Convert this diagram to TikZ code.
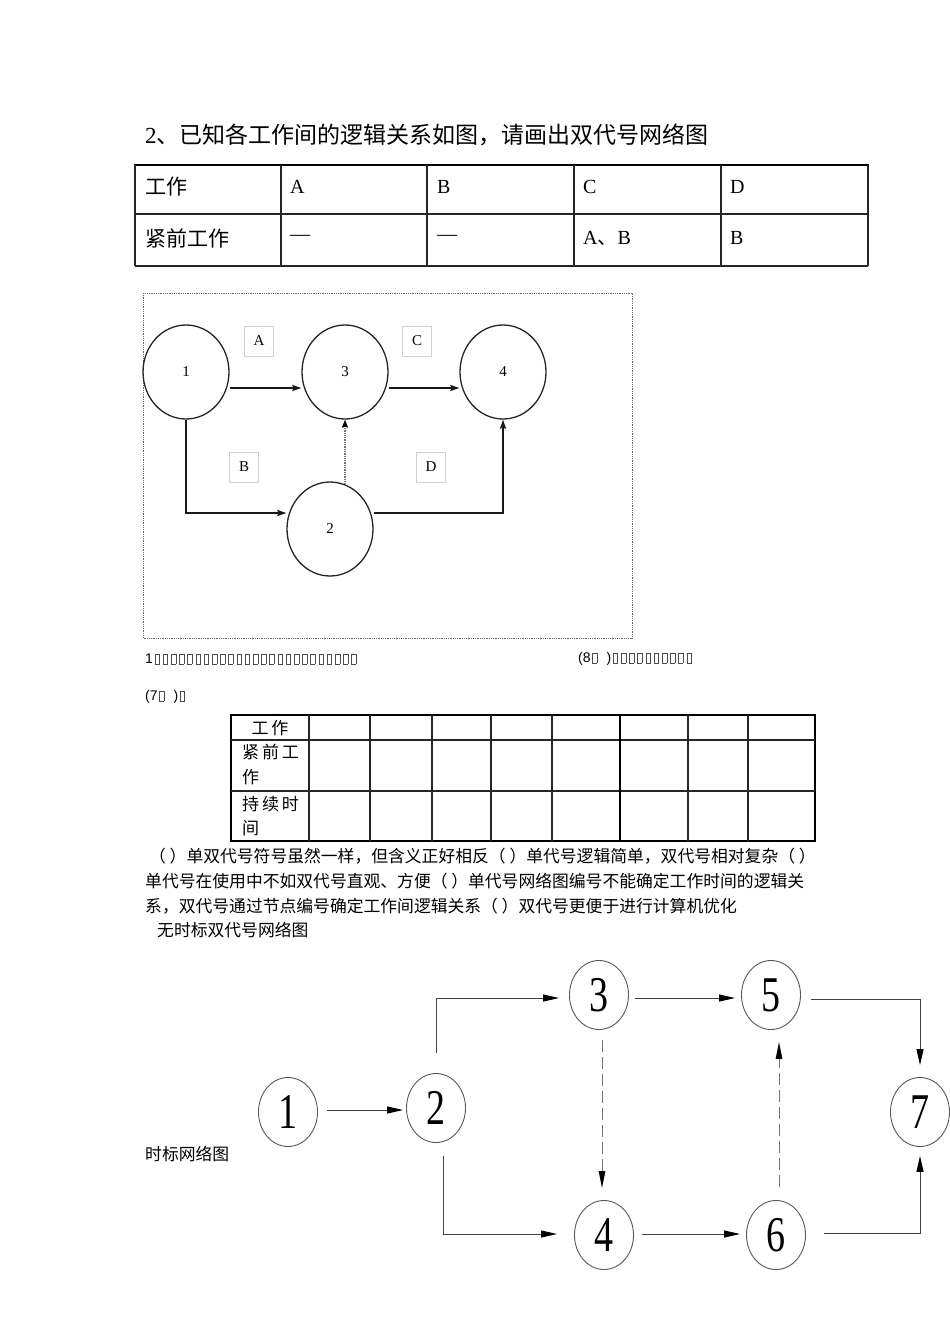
\documentclass[tikz,border=0pt]{standalone}
\usepackage{fontspec}
\usepackage{graphicx}
\setmainfont{Liberation Serif}
\newfontfamily\cjk{Noto Sans CJK SC}
\newfontfamily\lsans{Liberation Sans}
\usetikzlibrary{arrows.meta,shapes.geometric}
\newcommand\fs[1]{\fontsize{#1}{#1}\selectfont}
\newcommand\tofu{{\color{black!70}\setlength\fboxsep{0pt}\setlength\fboxrule{0.4pt}\kern1.6pt\fbox{\rule{0pt}{9pt}\hspace{4.2pt}}\kern1.6pt}}
\newcommand\tofus[1]{\foreach \i in {1,...,#1}{\tofu}}
\newcommand\dig[1]{\scalebox{0.76}[1]{\fs{50}#1}}
\tikzset{
  txt/.style={inner sep=0pt, anchor=west},
  cjkt/.style={txt, font=\cjk\fs{21}},
  serift/.style={txt, font=\fs{20}},
  para/.style={txt, font=\cjk\fs{16.8}},
  tofut/.style={txt, font=\lsans\fs{14}},
  circA/.style={draw=black!85, line width=1.3pt, ellipse, minimum width=86pt, minimum height=94pt, inner sep=0pt, font=\fs{15}},
  labbox/.style={draw=black!18, line width=0.8pt, minimum width=29pt, minimum height=30pt, inner sep=0pt, font=\fs{15}},
  arrA/.style={line width=1.5pt, black!90, -{Stealth[length=9pt,width=6pt,inset=1pt]}},
  dotA/.style={line width=1.3pt, black!55, densely dotted, -{Stealth[length=8pt,width=6pt,inset=1pt,black]}},
  circB/.style={draw=black!65, line width=0.9pt, ellipse, minimum width=59pt, minimum height=69pt, inner sep=0pt},
  arrB/.style={line width=1pt, black!75, -{Triangle[length=16pt,width=7pt,black]}},
  dashB/.style={line width=1pt, black!55, dash pattern=on 12pt off 5pt, -{Triangle[length=17pt,width=6.5pt,black]}},
  tline/.style={line width=1.2pt, black!85},
}
\begin{document}
\begin{tikzpicture}[x=1pt,y=-1pt]
\useasboundingbox (0,0) rectangle (950,1344);
\fill[white] (0,0) rectangle (950,1344);

% title
\node[txt, font=\fs{23}] (title) at (145,135) {2{\cjk 、已知各工作间的逻辑关系如图，请画出双代号网络图}};

% table 1
\draw[line width=2.6pt, black] (134,165) -- (869,165);
\draw[tline] (135,214) -- (868,214);
\draw[tline] (135,266) -- (868,266);
\foreach \x in {135,281,427,574,721,868} \draw[tline] (\x,165) -- (\x,266);
\node[cjkt] (h0) at (145,187) {工作};
\node[serift] (h1) at (290,187) {A};
\node[serift] (h2) at (437,187) {B};
\node[serift] (h3) at (583,187) {C};
\node[serift] (h4) at (730,187) {D};
\node[cjkt] (r0) at (145,238) {紧前工作};
\node[serift] (r1) at (290,238) {—};
\node[serift] (r2) at (437,238) {—};
\node[serift] (r3) at (583,238) {A{\cjk 、}B};
\node[serift] (r4) at (730,238) {B};

% diagram 1
\draw[black!60, line width=0.8pt, densely dotted] (143,293) rectangle (632,638);
\node[circA] (n1) at (186,372) {1};
\node[circA] (n3) at (345,372) {3};
\node[circA] (n4) at (503,372) {4};
\node[circA] (n2) at (330,529) {2};
\node[labbox] (la) at (259,341) {A};
\node[labbox] (lc) at (417,341) {C};
\node[labbox] (lb) at (244,467) {B};
\node[labbox] (ld) at (431,467) {D};
\draw[arrA] ([yshift=-16pt]n1.east) -- ([yshift=-16pt]n3.west);
\draw[arrA] ([yshift=-16pt]n3.east) -- ([yshift=-16pt]n4.west);
\draw[arrA] (n1.south) |- ([yshift=16pt]n2.west);
\draw[arrA] ([yshift=16pt]n2.east) -| (n4.south);
\draw[dotA] (n3.south |- n2.71) -- (n3.south);

% garbled lines
\node[tofut] (g1) at (145,659) {1\tofus{25}};
\node[tofut] (g2) at (578,659) {(8\tofu\ \ )\tofus{10}};
\node[tofut] (g3) at (145,697) {(7\tofu\ \ )\tofu};

% table 2
\draw[line width=1.3pt] (231,715) rectangle (815,841);
\draw[tline] (231,740) -- (815,740);
\draw[tline] (231,791) -- (815,791);
\foreach \x in {309,370,432,491,552,688,748} \draw[tline] (\x,715) -- (\x,841);
\draw[line width=1.6pt] (620,715) -- (620,841);
\node[inner sep=0pt, font=\cjk\fs{17}] (k0) at (270,728) {工\,作};
\node[txt, font=\cjk\fs{17}] (k1) at (242,752) {紧\,前\,工};
\node[txt, font=\cjk\fs{17}] (k2) at (242,777) {作};
\node[txt, font=\cjk\fs{17}] (k3) at (242,804) {持\,续\,时};
\node[txt, font=\cjk\fs{17}] (k4) at (242,828) {间};

% paragraph
\node[para] (p1) at (149,856) {（ ）单双代号符号虽然一样，但含义正好相反（ ）单代号逻辑简单，双代号相对复杂（ ）};
\node[para] (p2) at (145,881) {单代号在使用中不如双代号直观、方便（ ）单代号网络图编号不能确定工作时间的逻辑关};
\node[para] (p3) at (145,906) {系，双代号通过节点编号确定工作间逻辑关系（ ）双代号更便于进行计算机优化};
\node[para] (p4) at (157,930) {无时标双代号网络图};
\node[para] (p5) at (145,1154) {时标网络图};

% diagram 2
\node[circB] (m1) at (288,1112) {\dig{1}};
\node[circB] (m2) at (436,1108) {\dig{2}};
\node[circB] (m3) at (599,995) {\dig{3}};
\node[circB] (m5) at (771,995) {\dig{5}};
\node[circB] (m7) at (920,1112) {\dig{7}};
\node[circB] (m4) at (604,1235) {\dig{4}};
\node[circB] (m6) at (776,1235) {\dig{6}};
\draw[arrB] ([xshift=9pt,yshift=2pt]m1.east) -- ([xshift=-3pt,yshift=-2pt]m2.west);
\draw[arrB] ([yshift=20pt]m2.north) |- ([xshift=-10pt,yshift=-3pt]m3.west);
\draw[arrB] ([xshift=6pt,yshift=-3pt]m3.east) -- ([xshift=-6pt,yshift=-3pt]m5.west);
\draw[arrB] ([xshift=10pt,yshift=-4pt]m5.east) -| ([yshift=12pt]m7.north);
\draw[arrB] ([xshift=7pt,yshift=-13pt]m2.south) |- ([xshift=-17pt,yshift=1pt]m4.west);
\draw[arrB] ([xshift=8pt,yshift=1pt]m4.east) -- ([xshift=-6pt,yshift=1pt]m6.west);
\draw[arrB] ([xshift=18pt,yshift=2pt]m6.east) -| ([yshift=-9pt]m7.south);
\draw[dashB] ([xshift=3pt,yshift=-10pt]m3.south) -- ([xshift=-2pt,yshift=12pt]m4.north);
\draw[dashB] ([xshift=3pt,yshift=13pt]m6.north) -- ([xshift=8pt,yshift=-12pt]m5.south);
\end{tikzpicture}
\end{document}
